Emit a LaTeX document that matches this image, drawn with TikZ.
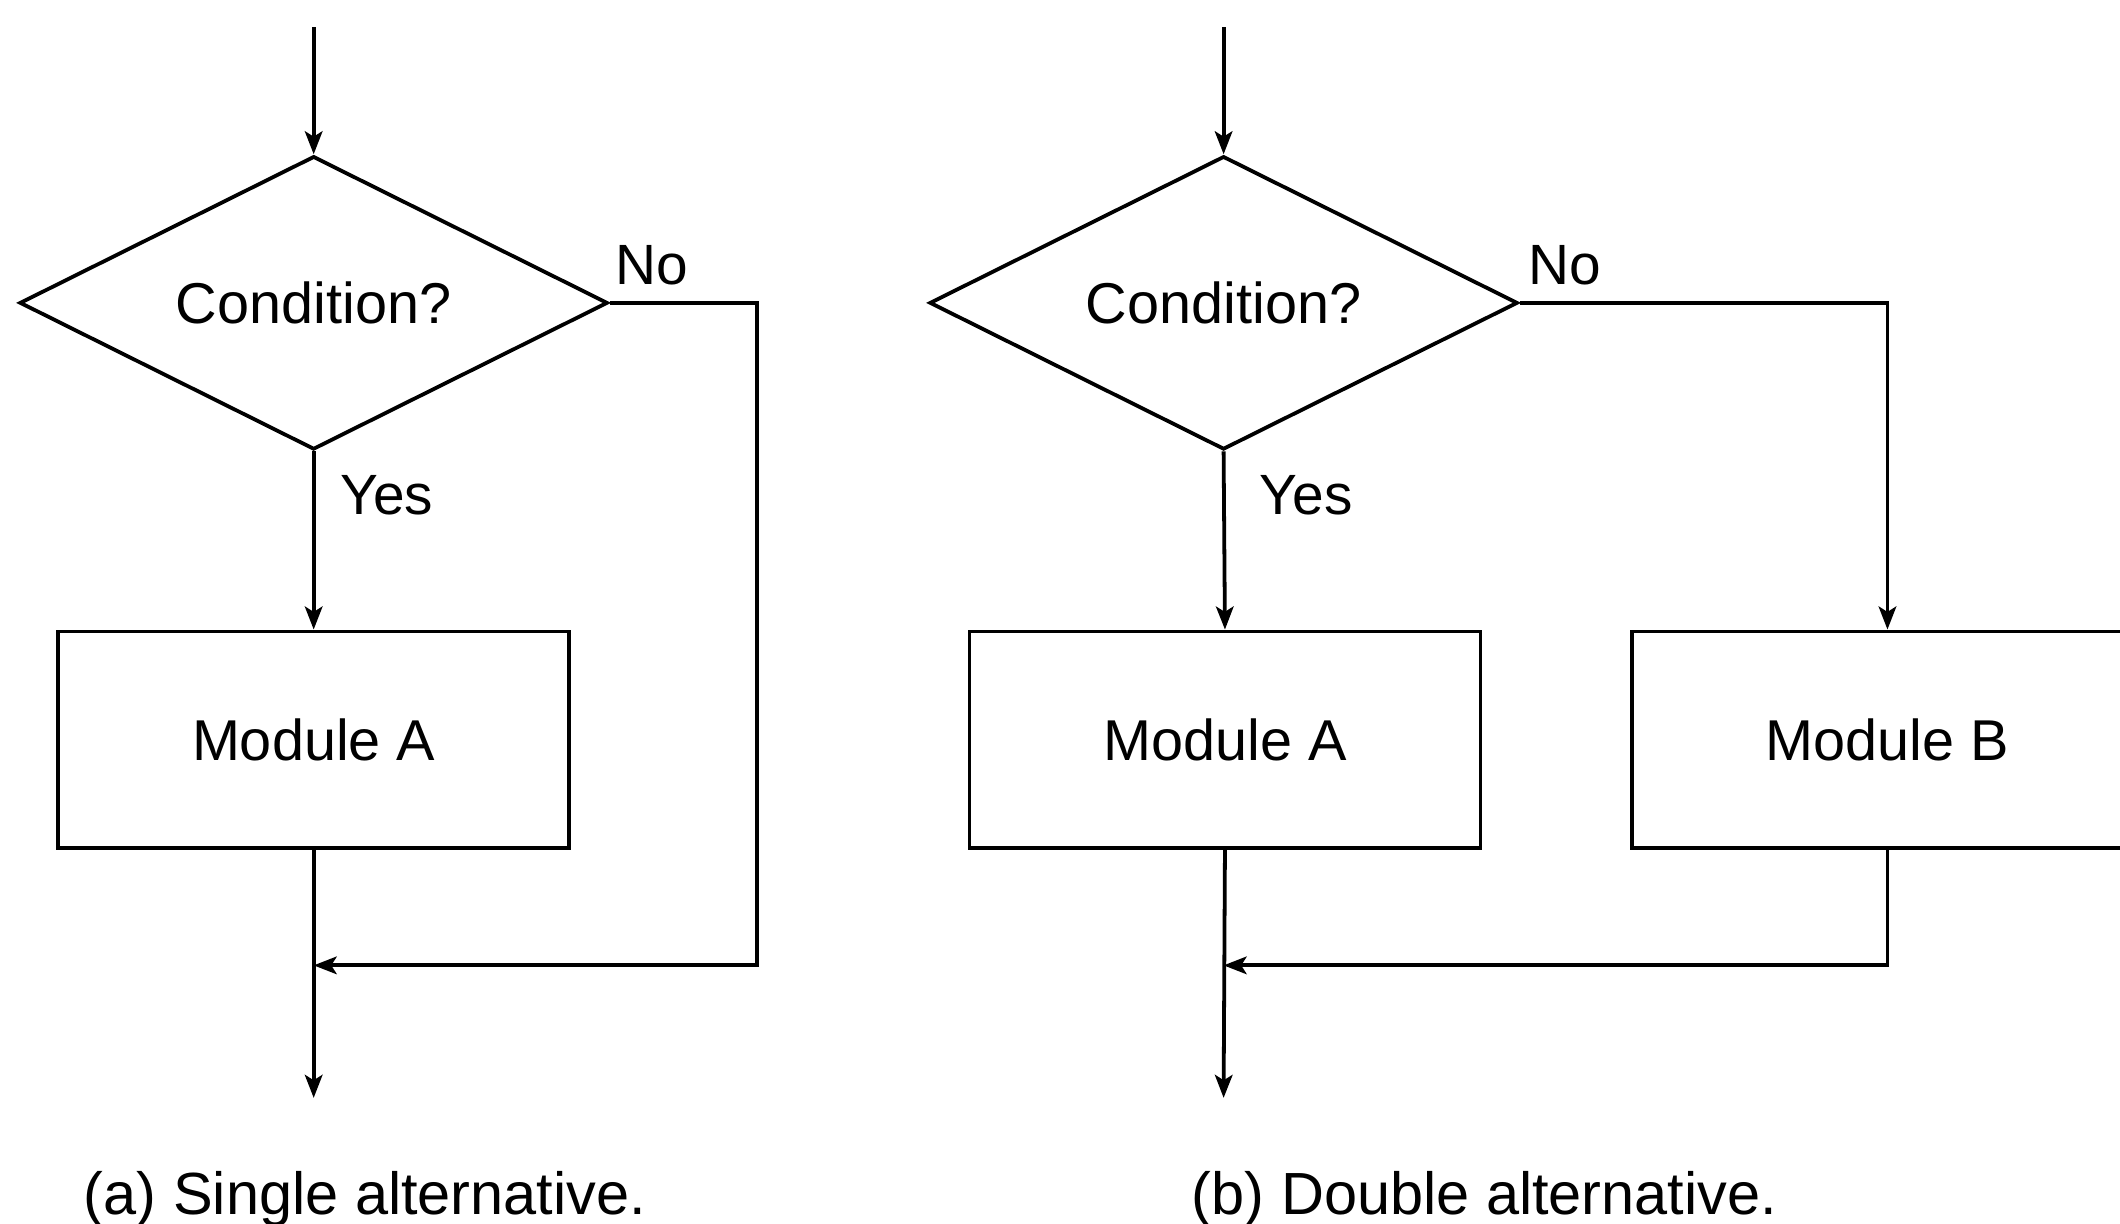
\documentclass[tikz,border=0pt]{standalone}
\usepackage{fontspec}
\setmainfont{Liberation Sans}
\usetikzlibrary{shapes.geometric,arrows.meta}
\begin{document}
\begin{tikzpicture}[x=0.5pt,y=-0.5pt,
  line width=1.4pt,
  arr/.style={-{Stealth[length=8.5pt,width=6.5pt,inset=2pt]}},
  cond/.style={draw,diamond,aspect=2,minimum width=217.5pt,minimum height=108.5pt,inner sep=0pt,font=\fontsize{21.3}{24}\selectfont},
  modbox/.style={draw,rectangle,minimum width=189pt,minimum height=80pt,inner sep=0pt,font=\fontsize{21.3}{24}\selectfont},
  lbl/.style={font=\fontsize{21}{24}\selectfont,inner sep=0pt},
  capt/.style={font=\fontsize{22}{26}\selectfont,inner sep=0pt}]
\useasboundingbox (0,0) rectangle (1568,905);
% (a)
\coordinate (in1) at (232,20);
\node[cond] (d1) at (232,224) {Condition?};
\node[modbox] (m1) at (232,547) {Module A};
\coordinate (c1) at (560,714);
\coordinate (j1) at (232,714);
\coordinate (out1) at (232,812);
\draw[arr] (in1) -- (d1.north);
\draw[arr] (d1.south) -- (m1.north);
\draw[arr] (m1.south) -- (out1);
\draw[arr] (d1.east) -| (c1) -- (j1);
\node[lbl] (no1) at (482,196) {No};
\node[lbl] (yes1) at (286,366) {Yes};
\node[capt] (cap1) at (270,887) {(a) Single alternative.};
% (b)
\coordinate (in2) at (905,20);
\node[cond] (d2) at (905,224) {Condition?};
\node[modbox] (m2) at (906,547) {Module A};
\node[modbox] (m3) at (1396,547) {Module B};
\coordinate (j2) at (905,714);
\coordinate (out2) at (905,812);
\draw[arr] (in2) -- (d2.north);
\draw[arr] (d2.south) -- (m2.north);
\draw[arr] (m2.south) -- (out2);
\draw[arr] (d2.east) -| (m3.north);
\draw[arr] (m3.south) |- (j2);
\node[lbl] (no2) at (1157,196) {No};
\node[lbl] (yes2) at (966,366) {Yes};
\node[capt] (cap2) at (1098,887) {(b) Double alternative.};
\end{tikzpicture}
\end{document}
